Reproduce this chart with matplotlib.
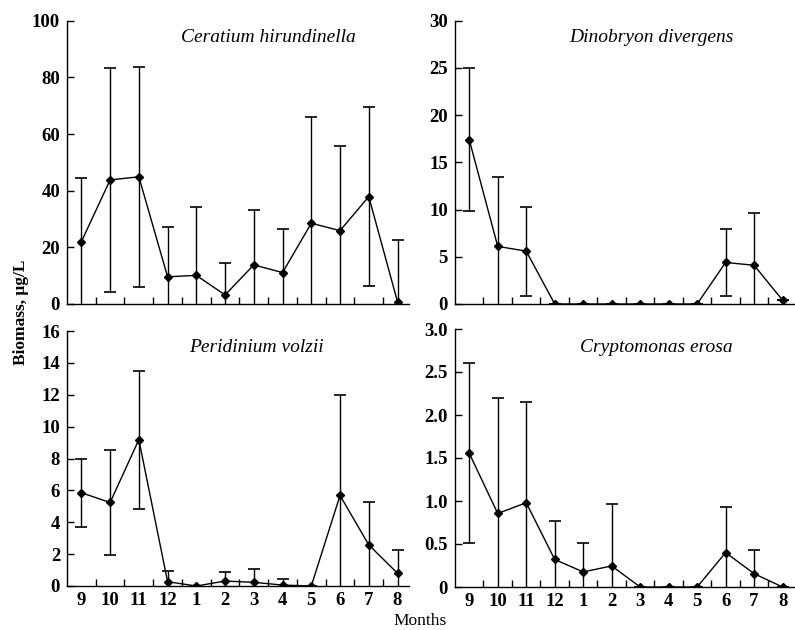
import matplotlib
matplotlib.use("Agg")
import matplotlib.pyplot as plt
from matplotlib.ticker import MultipleLocator, FixedLocator

months = ["9", "10", "11", "12", "1", "2", "3", "4", "5", "6", "7", "8"]

ceratium = [22.0, 43.8, 44.9, 9.6, 10.1, 3.2, 13.8, 11.1, 28.5, 25.9, 37.9, 0.8]
ceratium_up = [44.4, 83.2, 83.8, 27.1, 34.4, 14.4, 33.2, 26.6, 66.1, 55.9, 69.6, 22.6]

dinobryon = [17.4, 6.1, 5.6, 0, 0, 0, 0, 0, 0, 4.4, 4.1, 0.4]
dinobryon_up = [25.0, 13.5, 10.3, 0, 0, 0, 0, 0, 0, 7.9, 9.6, 0.4]

peridinium = [5.85, 5.24, 9.18, 0.27, 0.0, 0.31, 0.23, 0.06, 0.0, 5.68, 2.58, 0.8]
peridinium_up = [8.0, 8.56, 13.5, 0.96, 0.0, 0.88, 1.09, 0.46, 0.0, 12.0, 5.24, 2.26]

cryptomonas = [1.555, 0.855, 0.98, 0.32, 0.175, 0.245, 0, 0, 0, 0.40, 0.155, 0]
cryptomonas_up = [2.60, 2.20, 2.15, 0.77, 0.51, 0.97, 0, 0, 0, 0.93, 0.435, 0]

titles = ["Ceratium hirundinella", "Dinobryon divergens", "Peridinium volzii", "Cryptomonas erosa"]

plt.rcParams['font.family'] = ['Liberation Serif', 'DejaVu Serif']

fig = plt.figure(figsize=(7.95, 6.30), dpi=100)

W = 795.0; H = 630.0
def rect(l, t, r, b):
    return [l / W, (H - b) / H, (r - l) / W, (b - t) / H]

panels = [
    (rect(67, 20.7, 409, 304), ceratium, ceratium_up, titles[0], 100, 20, (0.59, 0.94), False),
    (rect(455, 20.7, 794, 304), dinobryon, dinobryon_up, titles[1], 30, 5, (0.578, 0.94), False),
    (rect(67, 331, 409, 586), peridinium, peridinium_up, titles[2], 16, 2, (0.553, 0.934), True),
    (rect(455, 329, 794, 587), cryptomonas, cryptomonas_up, titles[3], 3.0, 0.5, (0.594, 0.93), True),
]

x = list(range(len(months)))
for r, vals, ups, title, ymax, step, tpos, showx in panels:
    ax = fig.add_axes(r)
    err = [u - v for u, v in zip(ups, vals)]
    ax.errorbar(x, vals, yerr=err, color='black', lw=1.0, elinewidth=1.0,
                capsize=4, capthick=1.2, marker='D', markersize=4.5,
                markerfacecolor='black', markeredgecolor='black')
    ax.set_xlim(-0.5, 11.4)
    ax.set_ylim(0, ymax)
    for s in ['top', 'right']:
        ax.spines[s].set_visible(False)
    ax.spines['left'].set_linewidth(1.0)
    ax.spines['bottom'].set_linewidth(1.0)
    ax.xaxis.set_major_locator(FixedLocator(x))
    ax.xaxis.set_minor_locator(FixedLocator([i + 0.5 for i in range(0, 12)]))
    ax.tick_params(axis='both', which='both', direction='in', length=5, width=1)
    ax.tick_params(axis='x', which='major', length=0, pad=4)
    ax.tick_params(axis='y', which='major', pad=5)
    if showx:
        ax.set_xticklabels(months, fontsize=13.5, fontweight='bold')
    else:
        ax.set_xticklabels([])
    ticks = [i * step for i in range(int(round(ymax / step)) + 1)]
    ax.set_yticks(ticks)
    if step < 1:
        labs = ["0" if t == 0 else "%.1f" % t for t in ticks]
    else:
        labs = ["%d" % t for t in ticks]
    ax.set_yticklabels(labs, fontsize=13.5, fontweight='bold')
    ax.text(tpos[0], tpos[1], title, transform=ax.transAxes, ha='center', va='center',
            fontsize=14, fontstyle='italic')

fig.text(420 / W, 1 - 621 / H, "Months", ha='center', va='center', fontsize=12.5)
fig.text(21 / W, 1 - 312 / H, "Biomass, μg/L", ha='center', va='center', rotation=90,
         fontsize=12.5, fontweight='bold')

fig.savefig("out.png", dpi=100)
